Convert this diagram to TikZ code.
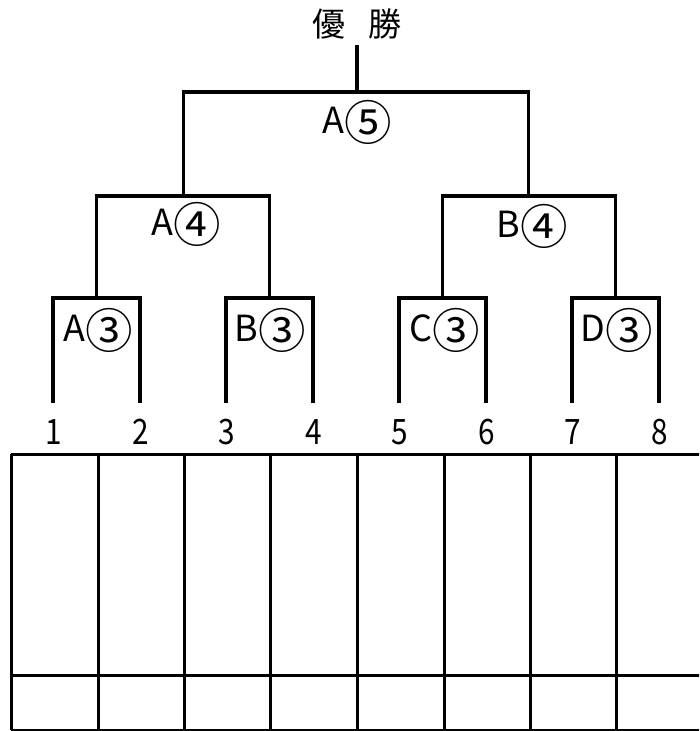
\documentclass[tikz,border=0pt]{standalone}
\usepackage{fontspec}
\setmainfont{Noto Sans CJK JP}
\newcommand{\circd}[1]{\raisebox{-0.17em}{\scalebox{1.32}{#1}}}
\begin{document}
\begin{tikzpicture}[x=1pt,y=-1pt,
  bracket/.style={line width=3.4pt,line cap=rect},
  leafline/.style={line width=3.2pt},
  gridline/.style={line width=3pt},
  lbl/.style={inner sep=0pt,font=\fontsize{36}{36}\selectfont},
  num/.style={inner sep=0pt,font=\fontsize{35}{35}\selectfont,xscale=0.85},
  title/.style={inner sep=0pt,font=\fontsize{33}{33}\selectfont}]
\useasboundingbox (0,0) rectangle (699,731);
\clip (0,0) rectangle (699,731);
% bracket coordinates
\coordinate (champ) at (357,45);
\coordinate (F) at (357,92);
\coordinate (A4) at (183.5,196);
\coordinate (B4) at (528.5,196);
\coordinate (A3) at (96.5,298);
\coordinate (B3) at (269.5,298);
\coordinate (C3) at (442.5,298);
\coordinate (D3) at (615.5,298);
\foreach \i/\x in {1/53,2/140,3/226,4/313,5/399,6/486,7/572,8/659}{
  \coordinate (L\i) at (\x,403);
  \node[num] (n\i) at (\x+1,432) {\i};
}
% bracket lines
\draw[leafline] (champ) -- (F);
\draw[bracket] (A4) |- (F) -| (B4);
\draw[bracket] (A3) |- (A4) -| (B3);
\draw[bracket] (C3) |- (B4) -| (D3);
\draw[leafline] (L1) |- (A3) -| (L2);
\draw[leafline] (L3) |- (B3) -| (L4);
\draw[leafline] (L5) |- (C3) -| (L6);
\draw[leafline] (L7) |- (D3) -| (L8);
% labels
\node[title] (win) at (357,24) {優\hspace{0.68em}勝};
\node[lbl] (lA5) at (357,122) {A\circd{⑤}};
\node[lbl] (lA4) at (186,224) {A\circd{④}};
\node[lbl] (lB4) at (532,226) {B\circd{④}};
\node[lbl] (lA3) at (98,330) {A\circd{③}};
\node[lbl] (lB3) at (270,330) {B\circd{③}};
\node[lbl] (lC3) at (445,330) {C\circd{③}};
\node[lbl] (lD3) at (617,330) {D\circd{③}};
% table
\draw[gridline] (11,454) -- (712,454);
\draw[gridline] (11,675) -- (712,675);
\draw[gridline] (11,730) -- (712,730);
\foreach \x in {11,98,184,270,357,444,530,616}{
  \draw[gridline] (\x,454) -- (\x,730);
}
\end{tikzpicture}
\end{document}
